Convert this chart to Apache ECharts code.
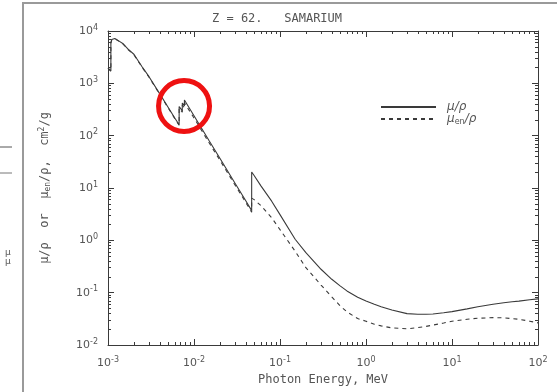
<!DOCTYPE html>
<html>
<head>
<meta charset="utf-8">
<script src="https://cdn.jsdelivr.net/npm/echarts@6.0.0/dist/echarts.min.js"></script>
<style>
html, body { margin: 0; padding: 0; background: #fff; }
#main { width: 557px; height: 392px; }
</style>
</head>
<body>
<div id="main"></div>
<script>
// photon energy (MeV), repeated values are absorption edges
const energyMeV = [
	1.0e-3, 1.0801e-3, 1.0801e-3, 1.1062e-3, 1.1062e-3, 1.2e-3, 1.3467e-3, 1.3467e-3,
	1.5e-3, 1.5406e-3, 1.5406e-3, 1.7232e-3, 1.7232e-3, 2e-3, 2.5e-3, 3e-3, 4e-3, 5e-3, 6e-3,
	6.7162e-3, 6.7162e-3, 7e-3, 7.3118e-3, 7.3118e-3, 7.7368e-3, 7.7368e-3, 8e-3,
	1e-2, 1.5e-2, 2e-2, 3e-2, 4e-2, 4.6834e-2, 4.6834e-2, 5e-2, 6e-2, 8e-2,
	0.1, 0.15, 0.2, 0.3, 0.4, 0.5, 0.6, 0.8, 1, 1.25, 1.5, 2, 3, 4, 5, 6, 8,
	10, 15, 20, 30, 40, 50, 60, 80, 100
];
const muRho = [
	1960, 1720, 5900, 6350, 6900, 7200, 6400, 6650,
	5700, 5450, 5600, 4450, 4600, 3600, 2050, 1340, 630, 350, 215,
	162, 360, 330, 300, 420, 370, 480, 440,
	240, 80, 37, 12.3, 5.7, 3.7, 20.2, 17.3, 11, 5.6,
	3.1, 1.05, 0.58, 0.28, 0.18, 0.135, 0.108, 0.082, 0.069, 0.06, 0.054, 0.0465, 0.0398, 0.0387, 0.0386, 0.0392, 0.0412,
	0.0435, 0.049, 0.054, 0.060, 0.064, 0.067, 0.069, 0.073, 0.076
];
const muEnRho = [
	1950, 1710, 5850, 6300, 6820, 7120, 6330, 6560,
	5620, 5370, 5510, 4380, 4510, 3530, 2010, 1310, 615, 340, 210,
	158, 335, 308, 280, 385, 340, 425, 392,
	218, 73, 34, 11.4, 5.3, 3.45, 6.4, 6.0, 4.6, 2.7,
	1.6, 0.62, 0.30, 0.14, 0.083, 0.056, 0.043, 0.032, 0.0285, 0.025, 0.0232, 0.0212, 0.0204, 0.0215, 0.0227, 0.024, 0.0263,
	0.0285, 0.031, 0.0325, 0.0333, 0.033, 0.032, 0.031, 0.0285, 0.0265
];
const xMajorTicks = [1e-3, 1e-2, 1e-1, 1, 10, 100];
const yMajorTicks = [1e-2, 1e-1, 1, 10, 100, 1000, 10000];
const titleText = 'Z = 62.   SAMARIUM';
const xName = 'Photon Energy, MeV';
const circleAt = [7.66e-3, 369]; // the red marker round the L edges

function minorOf(majors) {
	let out = [];
	for (let i = 0; i < majors.length - 1; i++) {
		for (let k = 2; k <= 9; k++) out.push(k * majors[i]);
	}
	return out;
}
const xMinorTicks = minorOf(xMajorTicks);
const yMinorTicks = minorOf(yMajorTicks);

const txt = '#555';
const ink = '#3a3a3a';
const mono = 'DejaVu Sans Mono';

function powLabel(v) {
	const e = Math.round(Math.log10(v));
	return '{b|10}{e|' + e + '}';
}
const powRich = {
	b: { fontSize: 11, color: txt, fontFamily: 'DejaVu Sans' },
	e: { fontSize: 8, color: txt, fontFamily: 'DejaVu Sans', padding: [0, 0, 7, 0] }
};

// data axis: log scale, carries labels and name, no ticks
function dataAxis(pos, min, max, majors, margin) {
	return {
		type: 'log', position: pos, min: min, max: max,
		splitLine: { show: false },
		axisLine: { show: false },
		axisTick: { show: false },
		axisLabel: { show: true, customValues: majors, formatter: powLabel, rich: powRich, margin: margin }
	};
}
// tick overlay: the same range in decades, only for drawing log spaced ticks
function tickAxis(pos, majors, minors, isMinor) {
	const lo = Math.round(Math.log10(majors[0]));
	const hi = Math.round(Math.log10(majors[majors.length - 1]));
	let t = {
		show: true, inside: true, length: isMinor ? 3 : 6,
		lineStyle: { color: ink, width: 1 }
	};
	if (isMinor) t.customValues = minors.map(v => Math.log10(v));
	return {
		type: 'value', position: pos, min: lo, max: hi, interval: 1,
		splitLine: { show: false },
		axisLine: { show: !isMinor, onZero: false, lineStyle: { color: ink, width: 1 } },
		axisTick: t,
		axisLabel: { show: false }
	};
}

let myChart = echarts.init(document.getElementById('main'), null, { renderer: 'canvas' });

const xs = [
	dataAxis('bottom', 1e-3, 1e2, xMajorTicks, 11),
	tickAxis('bottom', xMajorTicks, xMinorTicks, false),
	tickAxis('bottom', xMajorTicks, xMinorTicks, true),
	tickAxis('top', xMajorTicks, xMinorTicks, false),
	tickAxis('top', xMajorTicks, xMinorTicks, true)
];
xs[0].name = xName;
xs[0].nameLocation = 'middle';
xs[0].nameGap = 25;
xs[0].nameTextStyle = { fontFamily: mono, fontSize: 12, color: txt };

const ys = [
	dataAxis('left', 1e-2, 1e4, yMajorTicks, 10),
	tickAxis('left', yMajorTicks, yMinorTicks, false),
	tickAxis('left', yMajorTicks, yMinorTicks, true),
	tickAxis('right', yMajorTicks, yMinorTicks, false),
	tickAxis('right', yMajorTicks, yMinorTicks, true)
];
ys[0].name = '{n|μ/ρ  or  μ}{s|en}{n|/ρ,  cm}{p|2}{n|/g}';
ys[0].nameLocation = 'middle';
ys[0].nameRotate = 90;
ys[0].nameGap = 56;
ys[0].nameTextStyle = {
	color: txt,
	rich: {
		n: { fontFamily: mono, fontSize: 12, color: txt },
		s: { fontFamily: mono, fontSize: 8, color: txt, padding: [5, 0, 0, 0] },
		p: { fontFamily: mono, fontSize: 8, color: txt, padding: [0, 0, 6, 0] }
	}
};

const legendRich = {
	n: { fontFamily: 'DejaVu Sans', fontStyle: 'italic', fontSize: 12, color: txt },
	s: { fontFamily: 'DejaVu Sans', fontSize: 8, color: txt, padding: [5, 0, 0, 0] }
};
function legendFmt(name) {
	return name === 'mu' ? '{n|μ/ρ}' : '{n|μ}{s|en}{n|/ρ}';
}
function legendAt(name, top) {
	return {
		data: [name], left: 375, top: top, itemWidth: 55, itemHeight: 10, formatter: legendFmt,
		itemStyle: { opacity: 0 },
		textStyle: { rich: legendRich, padding: [0, 0, 0, 6] }
	};
}

const option = {
	animation: false,
	backgroundColor: '#fff',
	title: {
		text: titleText, left: 207, top: 8,
		textStyle: { fontFamily: mono, fontSize: 12, fontWeight: 'normal', color: txt }
	},
	grid: { left: 108, right: 19, top: 31, bottom: 47, containLabel: false, outerBoundsMode: 'none' },
	legend: [legendAt('mu', 96), legendAt('muen', 108)],
	xAxis: xs,
	yAxis: ys,
	series: [
		{
			name: 'mu', type: 'line', xAxisIndex: 0, yAxisIndex: 0,
			symbol: 'none', showSymbol: false,
			lineStyle: { color: ink, width: 1.1 }, itemStyle: { color: ink },
			data: energyMeV.map((e, i) => [e, muRho[i]])
		},
		{
			name: 'muen', type: 'line', xAxisIndex: 0, yAxisIndex: 0,
			symbol: 'none', showSymbol: false,
			lineStyle: { color: ink, width: 1.1, type: [4, 4] }, itemStyle: { color: ink },
			data: energyMeV.map((e, i) => [e, muEnRho[i]])
		}
	]
};

try {
	myChart.setOption(option);
	const c = myChart.convertToPixel({ seriesIndex: 0 }, circleAt);
	myChart.setOption({
		graphic: [
			{ type: 'rect', shape: { x: 23, y: 3, width: 620, height: 520 },
			  style: { fill: 'none', stroke: '#9a9a9a', lineWidth: 2 }, z: 0, silent: true },
			{ type: 'line', shape: { x1: 0, y1: 147, x2: 12, y2: 147 }, style: { stroke: '#555', lineWidth: 1 } },
			{ type: 'line', shape: { x1: 0, y1: 173, x2: 12, y2: 173 }, style: { stroke: '#777', lineWidth: 1 } },
			{ type: 'text', left: 5, top: 248, style: { text: 'μ\nμ', font: '9px DejaVu Sans', fill: '#555', lineHeight: 9 } },
			{ type: 'circle', shape: { cx: c[0], cy: c[1], r: 25.5 },
			  style: { fill: 'none', stroke: '#ee1111', lineWidth: 5 }, z: 100 }
		]
	});
} catch (e) {
	console.log(e);
}
</script>
</body>
</html>
